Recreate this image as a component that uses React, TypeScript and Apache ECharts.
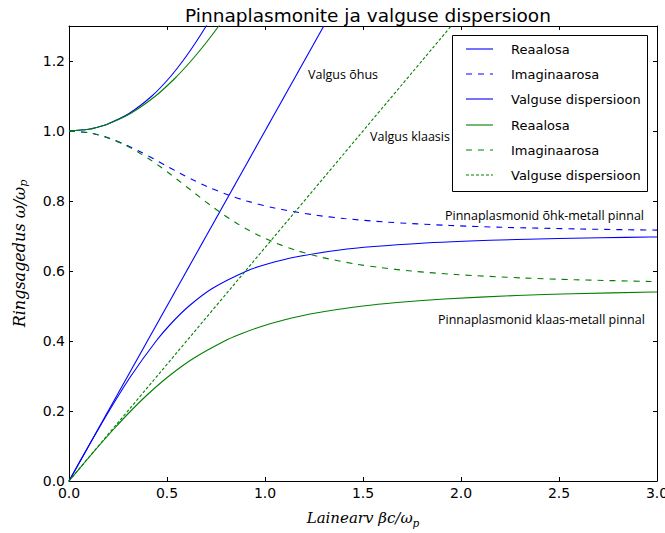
import React, { useEffect, useRef } from "react";
import * as echarts from "echarts";

// [k, omega] pairs
const airReal: number[][] = [
  [0, 0], [0.1005, 0.1], [0.2043, 0.2], [0.316, 0.3], [0.4446, 0.4], [0.521, 0.45], [0.6124, 0.5],
  [0.7309, 0.55], [0.9071, 0.6], [1.0117, 0.62], [1.1565, 0.64], [1.3816, 0.66], [1.5559, 0.67],
  [1.8181, 0.68], [2.0115, 0.685], [2.2843, 0.69], [2.712, 0.695], [2.9667, 0.697], [3.0, 0.6972],
];
const airRealUpper: number[][] = [
  [0, 1.0], [0.0996, 1.005], [0.1404, 1.01], [0.1972, 1.02], [0.3062, 1.05], [0.423, 1.1],
  [0.5092, 1.15], [0.5805, 1.2], [0.6431, 1.25], [0.7, 1.3], [0.7528, 1.35],
];
const airImag: number[][] = [
  [0, 1.0], [0.1004, 0.995], [0.1425, 0.99], [0.2032, 0.98], [0.2927, 0.96], [0.3661, 0.94],
  [0.4332, 0.92], [0.4982, 0.9], [0.5642, 0.88], [0.634, 0.86], [0.7108, 0.84], [0.7993, 0.82],
  [0.9071, 0.8], [1.0483, 0.78], [1.2538, 0.76], [1.4031, 0.75], [1.6131, 0.74], [1.945, 0.73],
  [2.2057, 0.725], [2.6047, 0.72], [2.8362, 0.718], [3.0, 0.7168],
];
const airLight: number[][] = [[0, 0], [1.3, 1.3]];

const glassReal: number[][] = [
  [0, 0], [0.0752, 0.05], [0.1517, 0.1], [0.2311, 0.15], [0.3151, 0.2], [0.4067, 0.25], [0.5103, 0.3],
  [0.6339, 0.35], [0.7937, 0.4], [0.8753, 0.42], [0.9733, 0.44], [1.0963, 0.46], [1.2602, 0.48],
  [1.5, 0.5], [1.6732, 0.51], [1.9138, 0.52], [2.2846, 0.53], [2.5668, 0.535], [2.9811, 0.54], [3.0, 0.5402],
];
const glassRealUpper: number[][] = [
  [0, 1.0], [0.0999, 1.005], [0.1412, 1.01], [0.1993, 1.02], [0.3137, 1.05], [0.4415, 1.1],
  [0.5394, 1.15], [0.6224, 1.2], [0.6964, 1.25], [0.7642, 1.3], [0.8277, 1.35],
];
const glassImag: number[][] = [
  [0, 1.0], [0.1001, 0.995], [0.1417, 0.99], [0.2008, 0.98], [0.2855, 0.96], [0.3516, 0.94],
  [0.4088, 0.92], [0.4606, 0.9], [0.5091, 0.88], [0.5556, 0.86], [0.6012, 0.84], [0.6466, 0.82],
  [0.6928, 0.8], [0.7406, 0.78], [0.7911, 0.76], [0.8455, 0.74], [0.9057, 0.72], [0.9742, 0.7],
  [1.0547, 0.68], [1.1536, 0.66], [1.2817, 0.64], [1.4614, 0.62], [1.5847, 0.61], [1.7463, 0.6],
  [1.9718, 0.59], [2.3202, 0.58], [2.5848, 0.575], [2.9706, 0.57], [3.0, 0.5697],
];
const glassLight: number[][] = [[0, 0], [1.95, 1.3]];

const legendLabels = ["Reaalosa", "Imaginaarosa", "Valguse dispersioon", "Reaalosa", "Imaginaarosa", "Valguse dispersioon"];
const annotations = ["Valgus õhus", "Valgus klaasis", "Pinnaplasmonid õhk-metall pinnal", "Pinnaplasmonid klaas-metall pinnal"];

const BLUE = "#0000ff";
const GREEN = "#008000";

export default function App() {
  const ref = useRef<HTMLDivElement>(null);
  useEffect(() => {
    if (!ref.current) return;
    const chart = echarts.init(ref.current, null, { renderer: "svg" });
    const line = (name: string, data: number[][], color: string, type: any) => ({
      name, type: "line", data, showSymbol: false, symbol: "none", clip: true,
      smooth: 0.3,
      lineStyle: { color, width: 1.1, type }, itemStyle: { color }, z: 3,
    });
    const legStyles: [string, any][] = [
      [BLUE, "solid"], [BLUE, [6, 6]], [BLUE, "solid"], [GREEN, "solid"], [GREEN, [6, 6]], [GREEN, [3, 2]],
    ];
    const legRows = [49, 74, 99, 125, 150, 175];
    const legendGraphics: any[] = [
      { type: "rect", shape: { x: 452.5, y: 35.5, width: 195, height: 156 }, style: { fill: "#fff", stroke: "#000", lineWidth: 1 }, z: 10 },
    ];
    legRows.forEach((y, i) => {
      legendGraphics.push({
        type: "line", shape: { x1: 466, y1: y, x2: 493, y2: y },
        style: { stroke: legStyles[i][0], lineWidth: 1.1, lineDash: Array.isArray(legStyles[i][1]) ? legStyles[i][1] : null }, z: 11,
      });
      legendGraphics.push({
        type: "text", x: 511, y, style: { text: legendLabels[i], fill: "#000", font: "13px 'DejaVu Sans'", verticalAlign: "middle" }, z: 11,
      });
    });
    const annFont = "12.5px 'Open Sans'";
    const annPos = [[308, 74], [370, 136], [445, 215], [438, 319]];
    annotations.forEach((t, i) => {
      legendGraphics.push({
        type: "text", x: annPos[i][0], y: annPos[i][1],
        style: { text: t, fill: "#000", font: annFont, verticalAlign: "middle" }, z: 11,
      });
    });
    const mkRich = (size: number) => ({
      it: { fontFamily: "DejaVu Serif", fontStyle: "italic", fontSize: size, color: "#000" },
      sub: { fontFamily: "DejaVu Serif", fontStyle: "italic", fontSize: size * 0.7, color: "#000", padding: [9, 0, 0, 0] },
    });
    const tickLabel = { color: "#000", fontSize: 14, fontFamily: "DejaVu Sans" };
    chart.setOption({
      animation: false,
      title: {
        text: "Pinnaplasmonite ja valguse dispersioon", left: 363, top: 1, textAlign: "center",
        textStyle: { fontFamily: "DejaVu Sans", fontWeight: "normal", fontSize: 18.5, color: "#000" },
      },
      grid: { left: 69, right: 8, top: 26, bottom: 52, show: false, outerBoundsMode: "none", containLabel: false },
      xAxis: [
        {
          type: "value", min: 0, max: 3, interval: 0.5, position: "bottom",
          name: "{it|Lainearv βc/ω}{sub|p}", nameLocation: "middle", nameGap: 27,
          nameTextStyle: { rich: mkRich(15) },
          axisLine: { show: true, lineStyle: { color: "#000", width: 1 } },
          axisTick: { show: true, inside: true, length: 4, lineStyle: { color: "#000" } },
          axisLabel: { ...tickLabel, margin: 5, formatter: (v: number) => v.toFixed(1) },
          splitLine: { show: false },
        },
        {
          type: "value", min: 0, max: 3, interval: 0.5, position: "top",
          axisLine: { show: true, onZero: false, lineStyle: { color: "#000", width: 1 } },
          axisTick: { show: true, inside: true, length: 4, lineStyle: { color: "#000" } },
          axisLabel: { show: false }, splitLine: { show: false },
        },
      ],
      yAxis: [
        {
          type: "value", min: 0, max: 1.3, interval: 0.2, position: "left",
          name: "{it|Ringsagedus ω/ω}{sub|p}", nameLocation: "middle", nameGap: 40, nameRotate: 90,
          nameTextStyle: { rich: mkRich(16) },
          axisLine: { show: true, lineStyle: { color: "#000", width: 1 } },
          axisTick: { show: true, inside: true, length: 4, lineStyle: { color: "#000" } },
          axisLabel: { ...tickLabel, margin: 4, showMaxLabel: false, formatter: (v: number) => v.toFixed(1) },
          splitLine: { show: false },
        },
        {
          type: "value", min: 0, max: 1.3, interval: 0.2, position: "right",
          axisLine: { show: true, onZero: false, lineStyle: { color: "#000", width: 1 } },
          axisTick: { show: true, inside: true, length: 4, lineStyle: { color: "#000" } },
          axisLabel: { show: false }, splitLine: { show: false },
        },
      ],
      series: [
        line("Reaalosa õhk", airReal, BLUE, "solid"),
        line("Reaalosa õhk ülemine", airRealUpper, BLUE, "solid"),
        line("Imaginaarosa õhk", airImag, BLUE, [6, 6]),
        line("Valguse dispersioon õhk", airLight, BLUE, "solid"),
        line("Reaalosa klaas", glassReal, GREEN, "solid"),
        line("Reaalosa klaas ülemine", glassRealUpper, GREEN, "solid"),
        line("Imaginaarosa klaas", glassImag, GREEN, [6, 6]),
        line("Valguse dispersioon klaas", glassLight, GREEN, [3, 2]),
      ],
      graphic: legendGraphics,
    });
    return () => chart.dispose();
  }, []);
  return <div ref={ref} style={{ width: 665, height: 533, position: "absolute", left: 0, top: 0 }} />;
}
